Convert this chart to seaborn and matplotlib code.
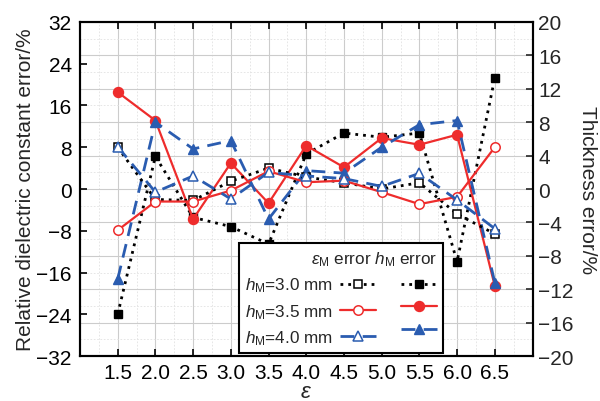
import numpy as np
import pandas as pd
import seaborn as sns
import matplotlib.pyplot as plt
from matplotlib.ticker import MultipleLocator
from matplotlib.lines import Line2D

# x categories (relative permittivity)
eps = [1.5, 2.0, 2.5, 3.0, 3.5, 4.0, 4.5, 5.0, 5.5, 6.0, 6.5]
eps_ticklabels = ["1.5", "2.0", "2.5", "3.0", "3.5", "4.0", "4.5", "5.0", "5.5", "6.0", "6.5"]

# eps_M error (left axis, %), hollow markers
eps_err_30 = [8.0, -2.0, -2.2, 1.5, 4.0, 2.3, 1.2, 0.0, 1.2, -4.8, -8.6]
eps_err_35 = [-7.9, -2.4, -2.4, -0.3, 3.4, 1.3, 1.6, -0.6, -2.9, -1.5, 8.0]
eps_err_40 = [8.1, -0.6, 2.5, -1.9, 3.2, 2.5, 2.0, 0.5, 3.0, -2.1, -7.6]

# h_M error (right axis, %), filled markers
h_err_30 = [-15.0, 3.9, -3.4, -4.5, -6.6, 4.2, 6.7, 6.2, 6.7, -8.7, 13.3]
h_err_35 = [11.6, 8.2, -3.6, 3.1, -1.7, 5.2, 2.6, 6.1, 5.3, 6.5, -11.6]
h_err_40 = [-10.8, 8.0, 4.8, 5.8, -3.6, 2.2, 1.9, 5.0, 7.7, 8.2, -11.2]

labels = [r"$h_{\rm M}$=3.0 mm", r"$h_{\rm M}$=3.5 mm", r"$h_{\rm M}$=4.0 mm"]

df = pd.DataFrame({"eps": eps,
                   "e30": eps_err_30, "e35": eps_err_35, "e40": eps_err_40,
                   "h30": h_err_30, "h35": h_err_35, "h40": h_err_40})

sns.set_style("ticks")
plt.rcParams["font.family"] = ["Liberation Sans", "DejaVu Sans"]
plt.rcParams["mathtext.fontset"] = "custom"
plt.rcParams["mathtext.rm"] = "Liberation Sans"
plt.rcParams["mathtext.it"] = "Liberation Sans:italic"
plt.rcParams["axes.unicode_minus"] = True

RED = "#ee2c2c"
BLUE = "#2a5cb0"
BLACK = "#000000"

styles = {
    "30": dict(color=BLACK, linestyle=(0, (1, 1.8)), lw=2.0),
    "35": dict(color=RED, linestyle="-", lw=1.6),
    "40": dict(color=BLUE, linestyle=(0, (5, 3)), lw=2.0),
}
markers = {"30": ("s", 5.5), "35": ("o", 6.8), "40": ("^", 7.5)}

fig = plt.figure(figsize=(6, 4.02), dpi=100)
ax = fig.add_axes([0.1333, 0.1119, 0.7542, 0.8309])
ax2 = ax.twinx()
ax.set_zorder(ax2.get_zorder() + 1)
ax.patch.set_visible(False)

hollow, filled = [], []
for key in ["30", "35", "40"]:
    st = styles[key]
    mk, ms = markers[key]
    # filled -> thickness error (right axis)
    sns.lineplot(data=df, x="eps", y="h" + key, ax=ax2, marker=mk, markersize=ms + 0.4,
                 markerfacecolor=st["color"], markeredgecolor=st["color"], markeredgewidth=1.0,
                 **st)
    # hollow -> permittivity error (left axis)
    sns.lineplot(data=df, x="eps", y="e" + key, ax=ax, marker=mk, markersize=ms,
                 markerfacecolor="white", markeredgecolor=st["color"], markeredgewidth=1.1,
                 **st)
    hollow.append(Line2D([], [], marker=mk, markersize=ms, markerfacecolor="white",
                         markeredgecolor=st["color"], markeredgewidth=1.1, **st))
    filled.append(Line2D([], [], marker=mk, markersize=ms + 0.4, markerfacecolor=st["color"],
                         markeredgecolor=st["color"], **st))

ax.set_xlim(1.0, 7.0)
ax.set_ylim(-32, 32)
ax2.set_ylim(-20, 20)
ax.set_xticks(eps)
ax.set_xticklabels(eps_ticklabels)
ax.xaxis.set_minor_locator(MultipleLocator(0.25))
ax.set_yticks(np.arange(-32, 33, 8))
ax2.yaxis.set_major_locator(MultipleLocator(4))
ax2.yaxis.set_minor_locator(MultipleLocator(2))

# grid lives on the lower (right) axes
ax2.xaxis.set_visible(True)
ax2.set_xlabel("")
ax2.tick_params(axis="x", which="both", length=0, labelbottom=False, labeltop=False)
ax2.grid(True, which="major", color="#cccccc", lw=0.8, ls="-")
ax2.grid(True, which="minor", color="#e2e2e2", lw=0.6, ls=(0, (2, 2)))
ax.grid(False)

fs = 15
ax.tick_params(axis="both", which="major", direction="in", length=5, width=1.2,
               top=True, right=False, labelsize=fs, colors="black")
ax.tick_params(axis="x", which="major", pad=5)
ax.tick_params(axis="y", which="major", pad=6)
ax.tick_params(which="minor", length=0)
ax2.tick_params(axis="y", which="major", direction="in", length=5, width=1.2,
                labelsize=fs, pad=4)
ax2.tick_params(axis="y", which="minor", length=0)

for a in (ax, ax2):
    for sp in a.spines.values():
        sp.set_linewidth(1.5)
        sp.set_color("black")
        sp.set_visible(True)

ax.set_xlabel(r"$\varepsilon$", fontsize=16, labelpad=-1)
ax.set_ylabel("Relative dielectric constant error/%", fontsize=fs, labelpad=1)
ax2.set_ylabel("Thickness error/%", fontsize=fs, rotation=270, labelpad=17)

lfs = 12.3
leg = ax.legend(handles=hollow + filled, labels=labels + ["", "", ""], ncol=2,
                markerfirst=False, title=r"$\varepsilon_{\rm M}$ error $h_{\rm M}$ error",
                alignment="right", loc="lower right", bbox_to_anchor=(0.802, 0.009),
                borderaxespad=0, frameon=True, fancybox=False, edgecolor="black",
                framealpha=1, handlelength=2.1, handletextpad=0.45, columnspacing=1.0,
                labelspacing=0.45, borderpad=0.35, fontsize=lfs, title_fontsize=lfs)
leg.get_frame().set_linewidth(1.5)

fig.savefig("out.png", dpi=100, facecolor="white")
